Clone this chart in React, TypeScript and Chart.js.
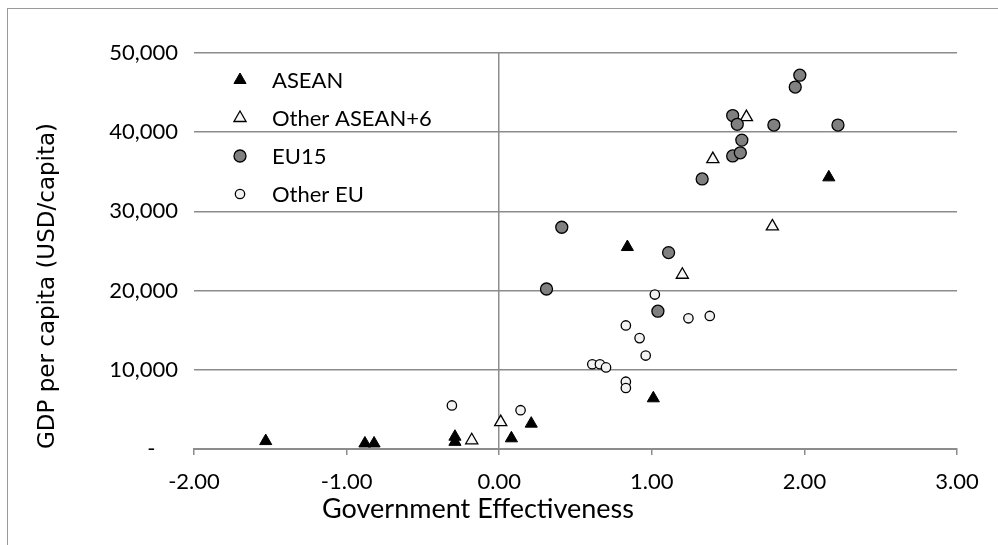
import React, { useEffect, useRef } from 'react';
import { Chart, registerables } from 'chart.js';
import { drawPoint } from 'chart.js/helpers';

Chart.register(...registerables);

// ---- data ----
const seriesNames = ['ASEAN', 'Other ASEAN+6', 'EU15', 'Other EU'];

const aseanX = [-1.53, -0.88, -0.82, -0.29, -0.29, 0.08, 0.21, 1.01, 0.84, 2.16];
const aseanY = [1000, 700, 700, 1550, 900, 1350, 3200, 6400, 25500, 34300];

const otherAseanX = [-0.18, 0.01, 1.2, 1.79, 1.4, 1.62];
const otherAseanY = [1100, 3400, 22000, 28100, 36600, 41900];

const eu15X = [0.41, 0.31, 1.11, 1.04, 1.33, 1.53, 1.58, 1.59, 1.53, 1.56, 1.8, 2.22, 1.94, 1.97];
const eu15Y = [28000, 20200, 24800, 17400, 34100, 37000, 37400, 39000, 42100, 41000, 40900, 40900, 45700, 47200];

const otherEuX = [-0.31, 0.14, 0.61, 0.66, 0.7, 0.83, 0.83, 0.96, 0.92, 0.83, 1.02, 1.24, 1.38];
const otherEuY = [5500, 4900, 10700, 10700, 10300, 8500, 7700, 11800, 14000, 15600, 19500, 16500, 16800];

const xMin = -2;
const xMax = 3;
const xStep = 1;
const yMin = 0;
const yMax = 50000;
const yStep = 10000;

const xAxisTitle = 'Government Effectiveness';
const yAxisTitle = 'GDP per capita (USD/capita)';

// ---- styles ----
const gridColor = '#8c8c8c';
const textColor = '#000000';
const tickFont = { family: 'Lato', size: 22 };

const toPoints = (xs: number[], ys: number[]) => xs.map((x, i) => ({ x, y: ys[i] }));

const overlayPlugin = {
  id: 'overlay',
  afterDraw(chart: any) {
    const ctx = chart.ctx as CanvasRenderingContext2D;
    const ca = chart.chartArea;
    ctx.save();
    // legend
    chart.data.datasets.forEach((ds: any, i: number) => {
      const cx = ca.left + 46;
      const cy = ca.top + 27 + i * 38;
      ctx.fillStyle = ds.backgroundColor;
      ctx.strokeStyle = ds.borderColor;
      ctx.lineWidth = ds.borderWidth;
      drawPoint(ctx, { pointStyle: ds.pointStyle, radius: ds.pointRadius, borderWidth: ds.borderWidth, rotation: 0 } as any, cx, cy);
      ctx.fillStyle = textColor;
      ctx.font = '22px Lato';
      ctx.textAlign = 'left';
      ctx.textBaseline = 'middle';
      ctx.fillText(ds.label, ca.left + 78, cy + 1);
    });
    // x axis title
    ctx.fillStyle = textColor;
    ctx.font = '27px Lato';
    ctx.textAlign = 'center';
    ctx.textBaseline = 'middle';
    ctx.fillText(xAxisTitle, ca.left + 284, ca.bottom + 60);
    ctx.restore();
  },
};

export default function App() {
  const canvasRef = useRef<HTMLCanvasElement | null>(null);

  useEffect(() => {
    if (!canvasRef.current) return;
    const chart = new Chart(canvasRef.current, {
      type: 'scatter',
      data: {
        datasets: [
          {
            label: seriesNames[0],
            data: toPoints(aseanX, aseanY),
            pointStyle: 'triangle',
            pointRadius: 7,
            backgroundColor: '#000000',
            borderColor: '#000000',
            borderWidth: 1,
            order: 3,
          },
          {
            label: seriesNames[1],
            data: toPoints(otherAseanX, otherAseanY),
            pointStyle: 'triangle',
            pointRadius: 7,
            backgroundColor: '#f7f7f7',
            borderColor: '#000000',
            borderWidth: 1.3,
            order: 2,
          },
          {
            label: seriesNames[2],
            data: toPoints(eu15X, eu15Y),
            pointStyle: 'circle',
            pointRadius: 6,
            backgroundColor: '#808080',
            borderColor: '#000000',
            borderWidth: 1.3,
            order: 1,
          },
          {
            label: seriesNames[3],
            data: toPoints(otherEuX, otherEuY),
            pointStyle: 'circle',
            pointRadius: 4.7,
            backgroundColor: '#f2f2f2',
            borderColor: '#000000',
            borderWidth: 1.3,
            order: 0,
          },
        ] as any,
      },
      options: {
        animation: false,
        responsive: false,
        events: [],
        layout: { padding: { top: 53, right: 41, left: 0, bottom: 0 } },
        plugins: {
          legend: { display: false },
          tooltip: { enabled: false },
        },
        scales: {
          x: {
            type: 'linear',
            min: xMin,
            max: xMax,
            ticks: {
              stepSize: xStep,
              callback: (v: any) => Number(v).toFixed(2),
              font: tickFont,
              color: textColor,
              padding: 14,
            },
            grid: {
              color: (c: any) => (c.tick && c.tick.value === 0 ? gridColor : 'rgba(0,0,0,0)'),
              tickColor: gridColor,
              tickLength: 6,
              lineWidth: 1.5,
              drawOnChartArea: true,
            },
            border: { display: true, color: gridColor, width: 2 },
            afterFit: (s: any) => {
              s.height = 96;
            },
          },
          y: {
            type: 'linear',
            min: yMin,
            max: yMax,
            ticks: {
              stepSize: yStep,
              callback: (v: any) => (Number(v) === 0 ? '-    ' : Number(v).toLocaleString('en-US')),
              font: tickFont,
              color: textColor,
              padding: 16,
            },
            grid: { color: gridColor, lineWidth: 1.5, drawTicks: false },
            border: { display: false },
            title: {
              display: true,
              text: yAxisTitle,
              align: 'start',
              font: { family: 'DejaVu Sans', size: 23 },
              color: textColor,
              padding: { top: 34, bottom: 0 },
            },
            afterFit: (s: any) => {
              s.width = 194;
            },
          },
        },
      } as any,
      plugins: [overlayPlugin],
    });
    return () => chart.destroy();
  }, []);

  return (
    <>
      <div
        style={{
          position: 'fixed',
          left: 7,
          top: 8,
          width: 991,
          height: 537,
          borderLeft: '1px solid #9a9a9a',
          borderTop: '1px solid #9a9a9a',
          boxSizing: 'border-box',
        }}
      />
      <canvas
        ref={canvasRef}
        width={998}
        height={545}
        style={{ position: 'fixed', left: 0, top: 0, width: 998, height: 545 }}
      />
    </>
  );
}
